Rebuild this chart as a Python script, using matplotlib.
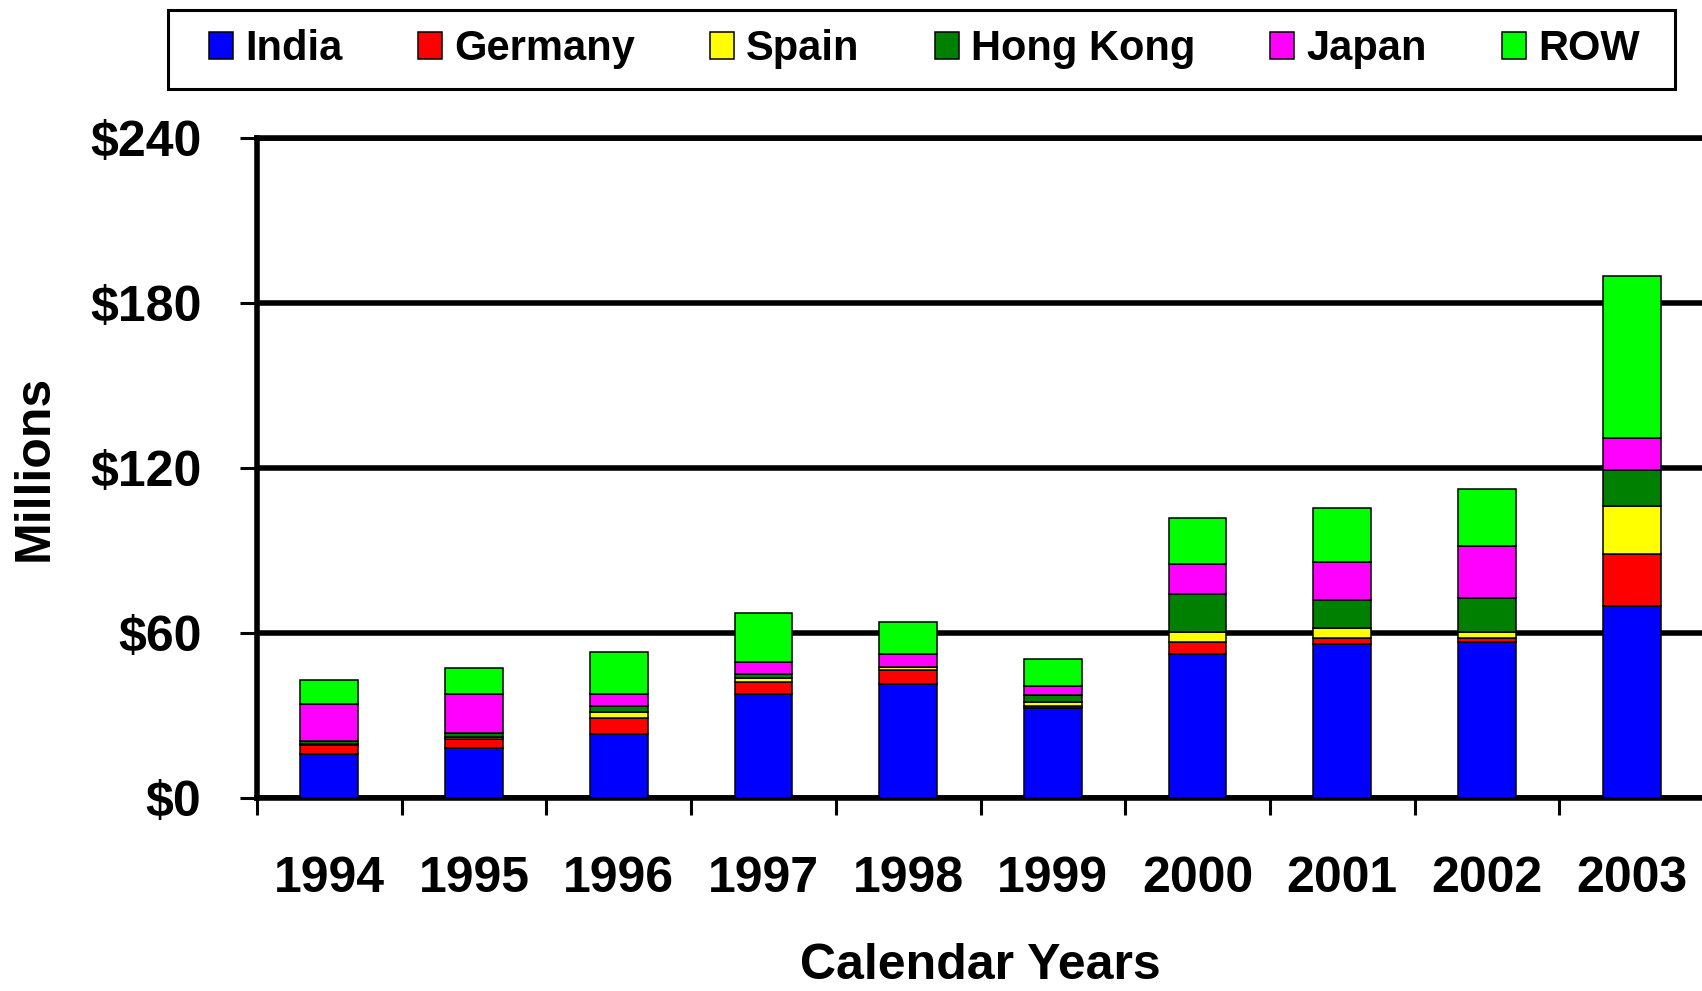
import numpy as np
import matplotlib
matplotlib.use("Agg")
import matplotlib.pyplot as plt
from matplotlib.patches import Rectangle

plt.rcParams['font.family'] = ['Liberation Sans', 'DejaVu Sans']
plt.rcParams['font.weight'] = 'bold'

# Data (millions of dollars)
years = ['1994', '1995', '1996', '1997', '1998', '1999', '2000', '2001', '2002', '2003']
india = [16.0, 18.2, 23.2, 37.7, 41.3, 32.5, 52.3, 55.9, 56.6, 69.7]
germany = [3.3, 3.3, 5.9, 4.5, 5.0, 0.8, 4.4, 2.3, 1.6, 18.9]
spain = [0.4, 0.6, 2.2, 1.4, 1.1, 1.6, 3.6, 3.5, 2.2, 17.5]
hong_kong = [0.8, 1.3, 2.2, 1.5, 0.3, 2.3, 13.8, 10.2, 12.2, 13.1]
japan = [13.7, 14.4, 4.2, 4.4, 4.4, 3.4, 10.9, 13.8, 19.0, 11.6]
row = [8.7, 9.5, 15.4, 17.6, 11.7, 9.7, 16.8, 19.8, 20.5, 59.0]

series = [
    ('India', india, '#0000FF'),
    ('Germany', germany, '#FF0000'),
    ('Spain', spain, '#FFFF00'),
    ('Hong Kong', hong_kong, '#008000'),
    ('Japan', japan, '#FF00FF'),
    ('ROW', row, '#00FF00'),
]

W, H = 1702, 991
fig = plt.figure(figsize=(W / 100, H / 100), dpi=100)
ax = fig.add_axes([257 / W, 1 - 797.7 / H, 1447 / W, 660 / H])

x = np.arange(len(years))
bottom = np.zeros(len(years))
handles = []
for name, vals, color in series:
    b = ax.bar(x, vals, 0.40, bottom=bottom, color=color, edgecolor='black',
               linewidth=1.1, label=name, zorder=3)
    handles.append(b)
    bottom += np.array(vals)

ax.set_xlim(-0.5, 9.5)
ax.set_ylim(0, 240)

# y axis
ax.set_yticks([0, 60, 120, 180, 240])
ax.set_yticklabels(['$0', '$60', '$120', '$180', '$240'])
ax.yaxis.grid(True, color='black', linewidth=4.0, zorder=1)
ax.set_axisbelow(True)
ax.tick_params(axis='y', direction='out', length=12, width=2.2, pad=28,
               labelsize=36)

# x axis: labels at centers, tick marks at category boundaries
ax.set_xticks(x)
ax.set_xticklabels(years)
ax.set_xticks(np.arange(-0.5, 10.0, 1.0), minor=True)
ax.tick_params(axis='x', which='major', length=0, pad=42, labelsize=36)
ax.tick_params(axis='x', which='minor', direction='out', length=12, width=2.2)

for side in ['left', 'bottom', 'top']:
    ax.spines[side].set_linewidth(4.0)
ax.spines['right'].set_visible(False)

ax.set_ylabel('Millions', fontsize=36, fontweight='bold')
ax.yaxis.set_label_coords(-0.138, 0.5)
ax.set_xlabel('Calendar Years', fontsize=36, fontweight='bold')
ax.xaxis.set_label_coords(0.5, -0.22)

# legend: entries without frame, box drawn separately
leg = fig.legend(handles=handles, loc='center left', ncol=6,
                 bbox_to_anchor=(209 / W, 1 - 49 / H),
                 fontsize=30, frameon=False, borderpad=0, borderaxespad=0,
                 handlelength=0.58, handleheight=0.62, handletextpad=0.29,
                 columnspacing=1.8)
for t in leg.get_texts():
    t.set_fontweight('bold')
fig.patches.append(Rectangle((168 / W, 1 - 89 / H), (1675 - 168) / W, 79 / H,
                             transform=fig.transFigure, fill=False,
                             edgecolor='black', linewidth=2.2))

fig.savefig('out.png', dpi=100)
